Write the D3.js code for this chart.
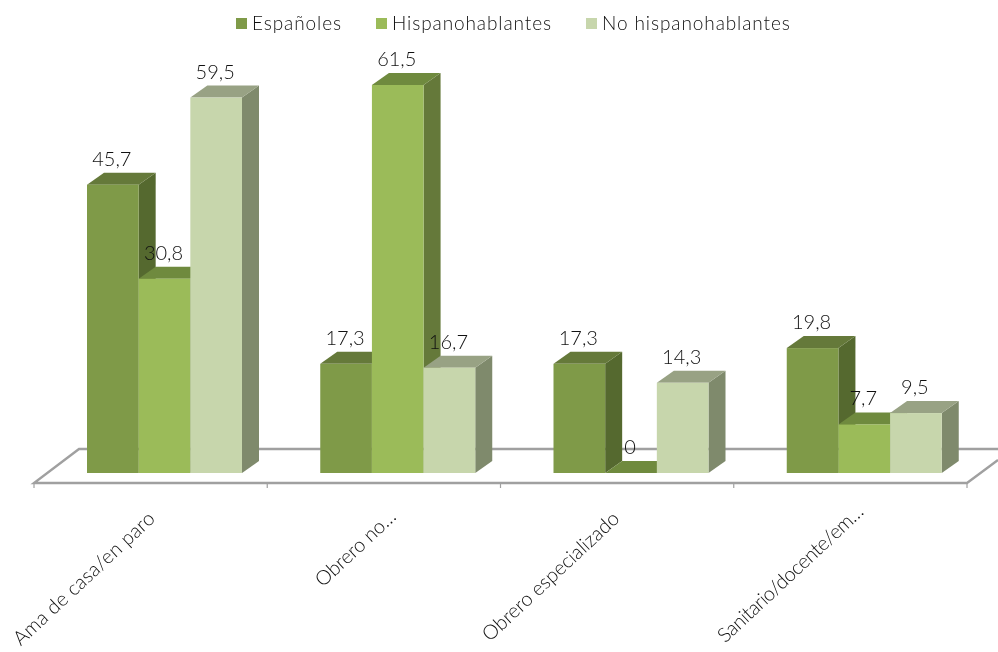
<!DOCTYPE html>
<html><head><meta charset="utf-8">
<script src="https://cdn.jsdelivr.net/npm/d3@7"></script>
<style>html,body{margin:0;padding:0;background:#fff;overflow:hidden}svg{display:block;filter:blur(0.4px)}text{font-family:Lato,"Open Sans",sans-serif;font-weight:300;fill:#111}</style>
</head><body><svg id="c" width="998" height="652"></svg>
<script>
const categories = ["Ama de casa/en paro","Obrero no…","Obrero especializado","Sanitario/docente/em…"];
const seriesNames = ["Españoles","Hispanohablantes","No hispanohablantes"];
const espanoles = [45.7,17.3,17.3,19.8];
const hispanohablantes = [30.8,61.5,0,7.7];
const noHispanohablantes = [59.5,16.7,14.3,9.5];
const seriesValues = [espanoles,hispanohablantes,noHispanohablantes];
const frontColors = ["#7F9A48","#9BBB59","#C7D6AC"];
const sideColors = ["#55692F","#65793A","#7F8A6C"];
const topColors = ["#65793A","#6F8A3E","#98A284"];
const labelShift = [-4,4,-6,5];
const labelLength = [185,102,179,191];
const labelTop = [510,508,510,503];
const legendX = [236,376,586];

const svg = d3.select("#c");
const baseY = 473, depthX = 17, depthY = 12;
const x0 = d3.scaleBand().domain(d3.range(categories.length)).range([34,967]);
const x1 = d3.scaleBand().domain(d3.range(seriesNames.length)).range([53,208]);
const y = d3.scaleLinear().domain([0,61.5]).range([baseY,85]);

// floor
const floor = svg.append("g").attr("fill","none").attr("stroke","#A0A0A0").attr("stroke-width",2.4);
floor.append("path").attr("d",d3.line()([[998,449],[79,449],[34,483],[967,483],[998,460]]));
x0.domain().concat([categories.length]).forEach(i=>{
  const px = i<categories.length ? x0(i) : x0.range()[1];
  floor.append("line").attr("x1",px).attr("x2",px).attr("y1",483).attr("y2",488).attr("stroke-width",1.2);
});

// bars
const poly = pts => pts.map(p=>p.join(",")).join(" ");
const barsG = svg.append("g");
categories.forEach((c,i)=>{
  seriesNames.forEach((s,j)=>{
    const v = seriesValues[j][i];
    const l = x0(i)+x1(j), r = l+x1.bandwidth(), t = y(v);
    const g = barsG.append("g");
    g.append("polygon").attr("fill",sideColors[j])
      .attr("points",poly([[r,t],[r+depthX,t-depthY],[r+depthX,baseY-depthY],[r,baseY]]));
    g.append("polygon").attr("fill",topColors[j])
      .attr("points",poly([[l,t],[l+depthX,t-depthY],[r+depthX,t-depthY],[r,t]]));
    g.append("rect").attr("x",l).attr("y",t).attr("width",x1.bandwidth()).attr("height",baseY-t).attr("fill",frontColors[j]);
  });
});
// value labels
categories.forEach((c,i)=>{
  seriesNames.forEach((s,j)=>{
    const v = seriesValues[j][i];
    svg.append("text").attr("x",x0(i)+x1(j)+x1.bandwidth()/2-1).attr("y",y(v)-depthY-7)
      .attr("text-anchor","middle").attr("font-size",20).text(String(v).replace(".",","));
  });
});
// category labels
categories.forEach((c,i)=>{
  const px = x0(i)+x0.bandwidth()/2+labelShift[i], py = labelTop[i];
  svg.append("text").attr("transform",`translate(${px},${py}) rotate(-43)`)
    .attr("text-anchor","end").attr("font-size",20).attr("dy","0.7em")
    .attr("textLength",labelLength[i]).attr("lengthAdjust","spacing").text(c);
});
// legend
seriesNames.forEach((s,j)=>{
  svg.append("rect").attr("x",legendX[j]).attr("y",18).attr("width",11).attr("height",11).attr("fill",frontColors[j]);
  svg.append("text").attr("x",legendX[j]+16).attr("y",30).attr("font-size",19).attr("letter-spacing",0.9).text(s);
});
</script></body></html>
